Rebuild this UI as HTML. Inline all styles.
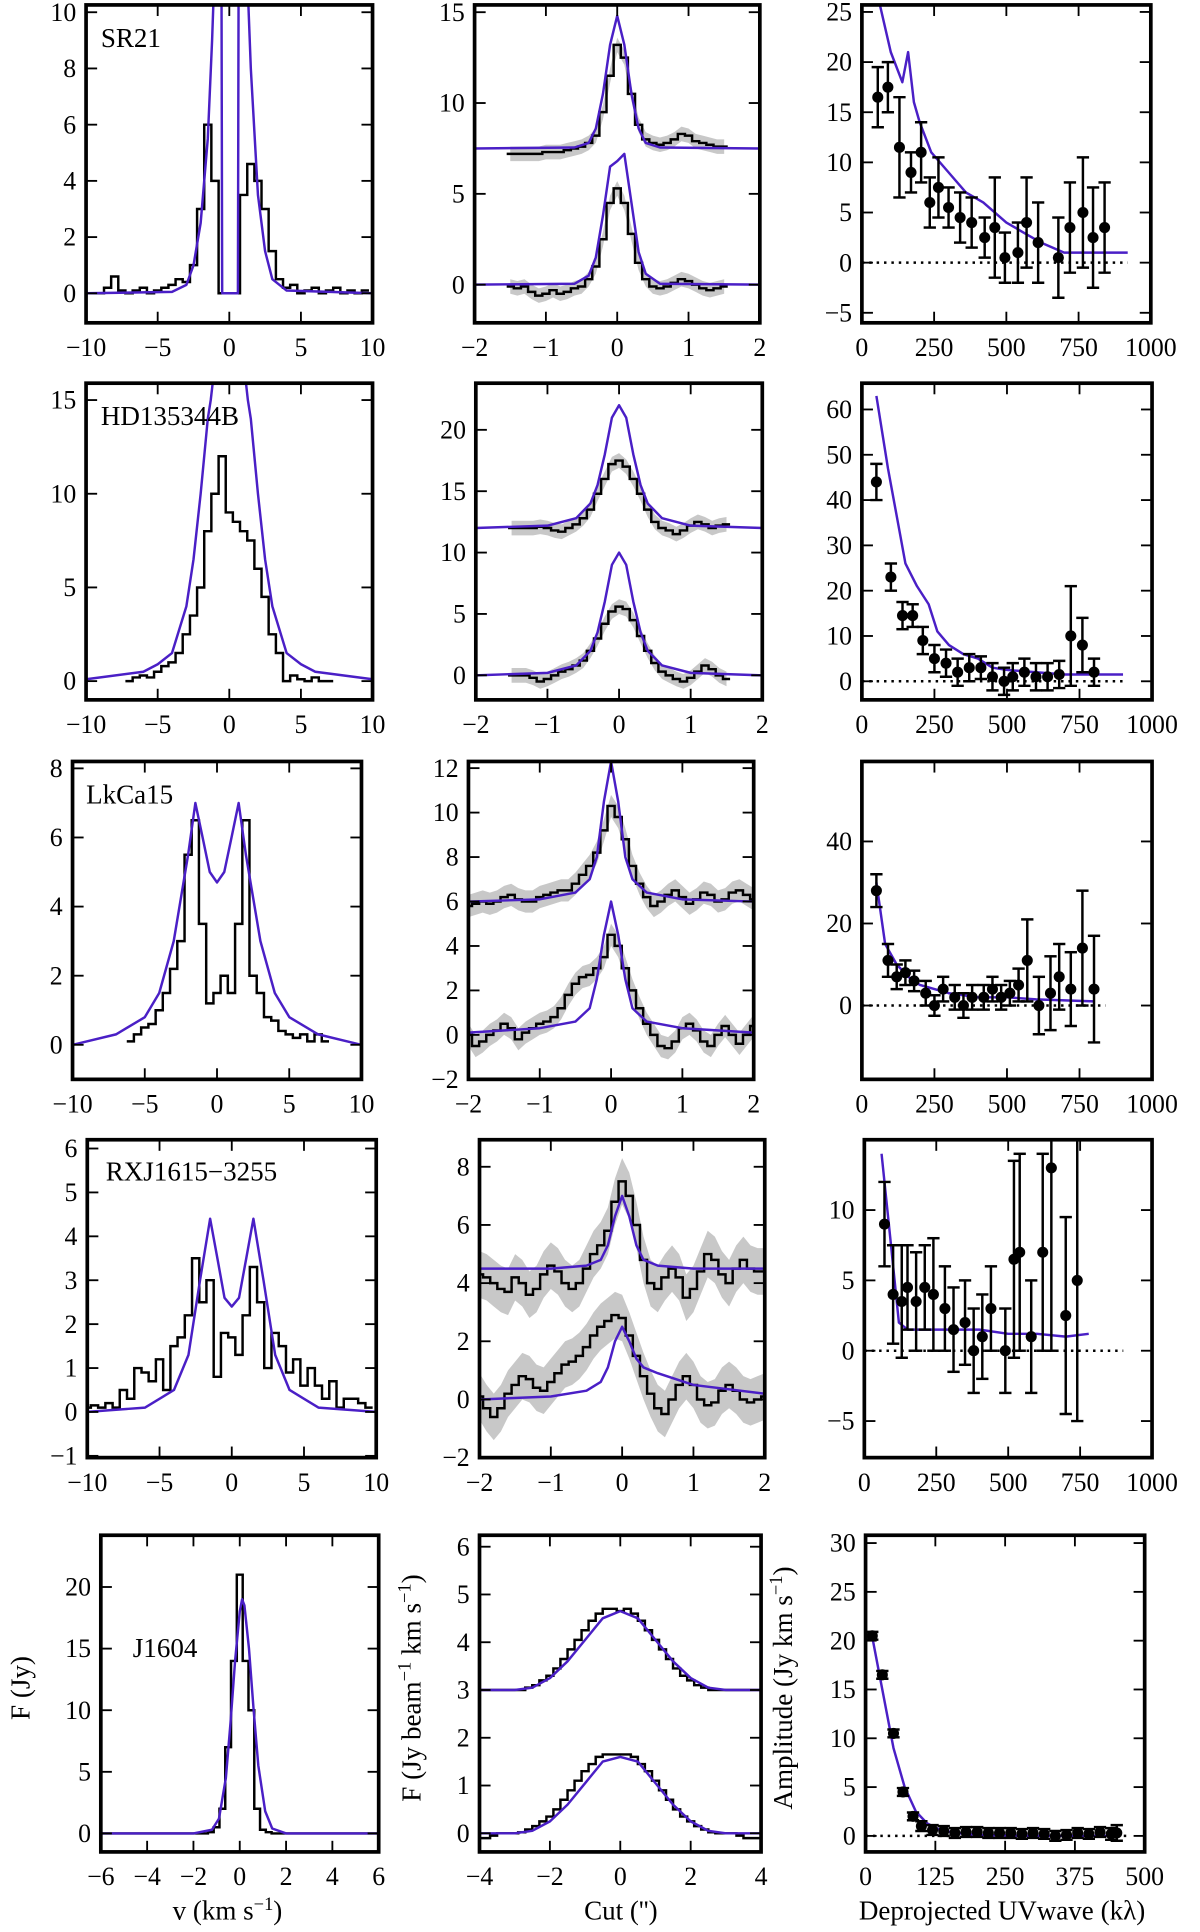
<!DOCTYPE html>
<html><head><meta charset="utf-8"><style>
html,body{margin:0;padding:0;background:#fff}
svg{display:block}
text{font-family:"Liberation Serif",serif;fill:#000}
</style></head><body>
<svg id="fig" xmlns="http://www.w3.org/2000/svg" width="1200" height="1932" viewBox="0 0 976 1568" preserveAspectRatio="none"></svg>
<script>
// ===== DATA =====
// Row 1: SR21
const sr21SpecX=[-9.5,-9,-8.5,-8,-7.5,-7,-6.5,-6,-5.5,-5,-4.5,-4,-3.5,-3,-2.5,-2,-1.5,-1,-0.5,0,0.5,1,1.5,2,2.5,3,3.5,4,4.5,5,5.5,6,6.5,7,7.5,8,8.5,9,9.5];
const sr21SpecY=[0,0,0.2,0.6,0.1,0,0.1,0.2,0,0.1,0.2,0.3,0.5,0.4,1.0,3.0,6.0,4.0,0,0,0,3.5,4.6,4.0,3.0,1.5,0.5,0.2,0.3,0,0.1,0.2,0,0.1,0.2,0,0.1,0,0.1];
const sr21ModX=[-10,-4,-3,-2.5,-2,-1.5,-1.2,-1,-0.7,-0.55,-0.5,0.6,0.65,0.8,1.2,1.5,2,2.5,3,4,10];
const sr21ModY=[0,0.05,0.3,1,2.5,5.5,9,12,12,12,0,0,12,12,12,8,3.5,1.5,0.5,0.1,0];
const sr21CutUp=[7.2,7.2,7.2,7.2,7.2,7.3,7.3,7.3,7.4,7.5,7.6,7.8,8.2,9.5,11.5,13.2,12.5,10.5,8.8,8.0,7.8,7.7,7.8,8.0,8.3,8.2,7.9,7.8,7.7,7.6,7.6];
const sr21CutLo=[-0.1,-0.2,-0.1,-0.4,-0.6,-0.5,-0.3,-0.5,-0.4,-0.2,-0.1,0.3,1.0,2.5,4.5,5.3,4.5,2.8,1.2,0.3,-0.1,-0.2,-0.1,0.1,0.3,0.2,0,-0.2,-0.3,-0.2,-0.1];
const sr21CutModX=[-2,-0.6,-0.4,-0.3,-0.2,-0.1,0,0.1,0.2,0.3,0.4,0.6,2];
const sr21CutModUp=[7.5,7.55,7.8,8.6,10.5,13.2,14.8,13.2,10.5,8.6,7.8,7.55,7.5];
const sr21CutModLo=[0,0.05,0.5,1.5,3.8,6.5,6.8,7.2,4.5,1.8,0.6,0.05,0];
const sr21UvX=[55,90,130,170,205,235,265,300,340,380,425,460,495,540,570,610,680,720,765,800,840];
const sr21UvY=[16.5,17.5,11.5,9,11,6,7.5,5.5,4.5,4,2.5,3.5,0.5,1,4,2,0.5,3.5,5,2.5,3.5];
const sr21UvE=[3,2.5,5,2,3,2.5,3,2,2.5,2.5,2,5,2.5,3,4.5,4,4,4.5,5.5,5,4.5];
const sr21UvModX=[60,100,140,160,180,200,240,300,360,420,500,560,620,700,800,920];
const sr21UvModY=[26,21,18,21,16,14,11,9,7,6,4,3,2,1,1,1];
// Row 2: HD135344B
const hdSpecX=[-7,-6.5,-6,-5.5,-5,-4.5,-4,-3.5,-3,-2.5,-2,-1.5,-1,-0.5,0,0.5,1,1.5,2,2.5,3,3.5,4,4.5,5,5.5,6,6.5,7];
const hdSpecY=[0,0.2,0.3,0.2,0.5,0.8,1,1.5,2.5,3.5,5,8,10,12,9,8.5,8,7.5,6,4.5,2.5,1.5,0,0.3,0.1,0,0.2,0,0];
const hdModX=[-10,-6,-5,-4,-3,-2.5,-2,-1.5,-1.3,-1,0,1,1.3,1.5,2,2.5,3,4,5,6,10];
const hdModY=[0.1,0.5,0.9,1.5,4,6.5,10,14,15,17,17,17,15,14,10,6.5,4,1.5,0.9,0.5,0.1];
const hdCutUp=[12,12,12,12,12.1,12,11.8,11.7,12,12.3,12.8,13.5,14.8,16,17.2,17.5,17,16,14.8,13.5,12.5,12,11.8,11.5,11.8,12.2,12.5,12.3,12,12.2,12.3];
const hdCutLo=[0,0,0,-0.2,-0.5,-0.3,0,0.3,0.5,0.8,1.2,2,3,4.2,5.2,5.6,5.4,4.5,3.2,2,1,0.3,0,-0.3,-0.5,-0.2,0.3,0.8,0.5,0,-0.3];
const hdCutModX=[-2,-1,-0.6,-0.4,-0.3,-0.2,-0.1,0,0.1,0.2,0.3,0.4,0.6,1,2];
const hdCutModUp=[12,12.2,12.8,14,15.5,18,21,22,21,18,15.5,14,12.8,12.2,12];
const hdCutModLo=[0,0.2,0.8,2,3.5,6,9,10,9,6,3.5,2,0.8,0.2,0];
const hdUvX=[50,100,140,175,210,250,290,330,370,410,450,490,520,560,600,640,680,720,760,800];
const hdUvY=[44,23,14.5,14.5,9,5,4,2,3,3,1,0,1,2,1,1,1.5,10,8,2];
const hdUvE=[4,3,3,2.5,3,3,3,3,3,2.5,3,3,3,3,3,3,3,11,6,3];
const hdUvModX=[50,90,130,150,190,230,260,300,350,400,450,500,600,700,900];
const hdUvModY=[63,47,33,26,21,17,11,8,6,5,3,2.5,2,1.5,1.5];
// Row 3: LkCa15
const lkSpecX=[-6,-5.5,-5,-4.5,-4,-3.5,-3,-2.5,-2,-1.5,-1,-0.5,0,0.5,1,1.5,2,2.5,3,3.5,4,4.5,5,5.5,6,6.5,7,7.5];
const lkSpecY=[0.1,0.3,0.5,0.6,1,1.5,2.2,3,5.5,6.5,3.5,1.2,1.5,2,1.5,3.5,6.5,2,1.5,0.8,0.7,0.4,0.3,0.2,0.3,0.1,0.3,0.1];
const lkModX=[-10,-7,-5,-4,-3,-2,-1.5,-1,-0.5,0,0.5,1,1.5,2,3,4,5,7,10];
const lkModY=[0,0.3,0.8,1.5,3,5.5,7,6,5,4.7,5,6,7,5.5,3,1.5,0.8,0.3,0];
const lkCutUp=[5.8,5.9,6.0,5.9,6.0,6.2,6.3,6.1,6.0,6.0,6.2,6.3,6.4,6.5,6.5,6.8,7.2,7.6,8.2,9.2,10.3,9.8,8.8,7.6,6.8,6.2,5.8,6.0,6.3,6.5,6.2,5.9,6.1,6.4,6.3,6.0,6.1,6.4,6.5,6.3,6.1];
const lkCutLo=[0,-0.5,-0.3,0,0.2,0.5,0.3,-0.2,0.1,0.3,0.5,0.6,0.8,1.2,1.8,2.3,2.6,2.7,3,3.5,4.5,4,3,2,1.2,0.5,0,-0.5,-0.6,-0.3,0.3,0.5,0.2,-0.3,-0.5,0,0.4,0,-0.4,0,0.4];
const lkCutModX=[-2,-1,-0.5,-0.3,-0.2,-0.1,0,0.1,0.2,0.3,0.5,1,2];
const lkCutModUp=[6,6.1,6.4,7,8,10.5,12.3,10.5,8,7,6.4,6.1,6];
const lkCutModLo=[0.1,0.3,0.6,1.2,2.5,4.5,6,4.5,2.5,1.2,0.6,0.3,0.1];
const lkUvX=[50,90,120,150,180,220,250,280,320,350,380,420,450,480,510,540,570,610,650,680,720,760,800];
const lkUvY=[28,11,7,8,6,3,0,4,2,0,2,2,4,2,3,5,11,0,3,7,4,14,4];
const lkUvE=[4,4,3,3,2.5,3,2.5,3,3,3,3,3,3,3,3,4,10,7,9,8,9,14,13];
const lkUvModX=[50,80,120,160,200,300,400,500,600,800];
const lkUvModY=[30,15,10,7,5,3,2,2,1.5,1];
// Row 4: RXJ1615-3255
const rxSpecX=[-10,-9.5,-9,-8.5,-8,-7.5,-7,-6.5,-6,-5.5,-5,-4.5,-4,-3.5,-3,-2.5,-2,-1.5,-1,-0.5,0,0.5,1,1.5,2,2.5,3,3.5,4,4.5,5,5.5,6,6.5,7,7.5,8,8.5,9,9.5];
const rxSpecY=[0.1,0.15,0.1,0.2,0.1,0.5,0.3,1,0.9,0.7,1.2,0.5,1.5,1.7,2.2,3.5,2.5,3,0.8,1.8,1.7,1.3,2.2,3.3,2.5,1,1.8,1.5,0.9,1.2,0.6,1,0.6,0.3,0.7,0.1,0.3,0.3,0.2,0.1];
const rxModX=[-10,-6,-4,-3,-2.2,-1.5,-1,-0.5,0,0.5,1,1.5,2.2,3,4,6,10];
const rxModY=[0,0.1,0.5,1.3,3,4.4,3.5,2.6,2.4,2.6,3.5,4.4,3,1.3,0.5,0.1,0];
const rxCutUp=[4.3,4.2,4.0,3.8,3.7,4.2,4.0,3.6,3.8,4.3,4.6,4.4,4.0,3.8,4.0,4.5,5.0,5.3,5.8,6.8,7.5,7.0,6.0,4.8,4.0,3.8,4.2,4.5,4.2,3.5,3.8,4.4,5.0,4.8,4.3,4.0,4.5,4.8,4.5,4.4,4.4];
const rxCutLo=[0.1,-0.3,-0.6,-0.3,0.2,0.5,0.8,0.7,0.4,0.3,0.6,0.9,1.2,1.3,1.5,1.8,2.2,2.5,2.7,2.9,2.8,2.2,1.5,0.8,0.2,-0.3,-0.5,0,0.5,0.8,0.5,0,-0.2,-0.1,0.3,0.5,0.3,0,-0.1,0,0.1];
const rxCutModX=[-2,-1,-0.5,-0.3,-0.2,-0.1,0,0.1,0.2,0.3,0.5,1,2];
const rxCutModUp=[4.5,4.5,4.6,4.8,5.3,6.3,7,6.3,5.3,4.8,4.6,4.5,4.5];
const rxCutModLo=[0,0.1,0.3,0.6,1.1,2,2.5,2,1.4,1.1,0.9,0.5,0.2];
const rxUvX=[70,100,130,150,180,210,240,280,310,350,380,410,440,490,520,540,580,620,650,700,740];
const rxUvY=[9,4,3.5,4.5,3.5,4.5,4,3,1.5,2,0,1,3,0,6.5,7,1,7,13,2.5,5];
const rxUvE=[3,3.5,4,3,3.5,3,4,3,3,3,3,3,3,3,7,7,4,7,13,7,10];
const rxUvModX=[60,90,120,150,200,300,400,500,600,700,780];
const rxUvModY=[14,8,2,1.5,1.5,1.5,1.5,1.2,1.2,1,1.2];
// Row 5: J1604
const jSpecX=[-6,-5.75,-5.5,-5,-4.5,-4,-3.5,-3,-2.5,-2,-1.5,-1.25,-1,-0.75,-0.5,-0.25,0,0.25,0.5,0.75,1,1.25,1.5,2,2.5,3,3.5,4,4.5,5,5.5,6];
const jSpecY=[0,0,0,0,0,0,0,0,0,0,0,0.1,0.5,2,7,14,21,14,10,2,0.3,0.1,0,0,0,0,0,0,0,0,0,0];
const jModX=[-6,-2,-1.2,-0.9,-0.6,-0.4,-0.2,0,0.1,0.2,0.4,0.6,0.8,1.1,1.4,2,6];
const jModY=[0,0,0.3,1.2,4.5,9,14,18,19,18.5,15,10,5.5,1.8,0.4,0,0];
const jCutX=[-4,-3.8,-3.6,-3.4,-3.2,-3,-2.8,-2.6,-2.4,-2.2,-2,-1.8,-1.6,-1.4,-1.2,-1,-0.8,-0.6,-0.4,-0.2,0,0.2,0.4,0.6,0.8,1,1.2,1.4,1.6,1.8,2,2.2,2.4,2.6,2.8,3,3.2,3.4,3.6,3.8,4];
const jCutUp=[3,3,3,3,3,3,3,3.05,3.1,3.2,3.3,3.45,3.65,3.85,4.05,4.25,4.45,4.6,4.7,4.7,4.65,4.7,4.6,4.45,4.25,4.05,3.85,3.65,3.45,3.3,3.2,3.1,3.05,3,3,3,3,3,3,3,3];
const jCutLo=[-0.1,-0.1,-0.05,0,0,0,0.02,0.08,0.15,0.25,0.35,0.5,0.7,0.9,1.1,1.3,1.45,1.6,1.65,1.65,1.65,1.65,1.6,1.45,1.3,1.1,0.9,0.7,0.5,0.35,0.25,0.15,0.08,0.02,0,0,0,-0.05,-0.1,-0.1,-0.1];
const jCutModX=[-4,-3,-2.5,-2,-1.5,-1,-0.5,0,0.5,1,1.5,2,2.5,3,4];
const jCutModUp=[3,3,3.05,3.25,3.6,4.05,4.5,4.65,4.5,4.05,3.6,3.25,3.05,3,3];
const jCutModLo=[0,0,0.05,0.25,0.6,1.05,1.5,1.6,1.5,1.05,0.6,0.25,0.05,0,0];
const jUvX=[12,30,50,67,85,100,120,140,160,180,200,220,240,260,280,300,320,340,360,380,400,420,440,450];
const jUvY=[20.5,16.5,10.5,4.5,2,1,0.6,0.5,0.3,0.4,0.4,0.3,0.3,0.3,0.2,0.3,0.2,0,0.1,0.3,0.2,0.4,0.2,0.3];
const jUvE=[0.4,0.4,0.4,0.4,0.4,0.5,0.5,0.5,0.5,0.5,0.5,0.5,0.5,0.5,0.5,0.5,0.5,0.5,0.5,0.5,0.5,0.5,0.6,0.8];
const jUvModX=[10,30,50,70,90,110,130,160,200,300,450];
const jUvModY=[21,15,9,5,2.5,1.3,0.7,0.3,0.1,0,0];
// tick labels
const tkV10=[-10,-5,0,5,10], tkCut2=[-2,-1,0,1,2], tkUv1000=[0,250,500,750,1000];
const tkV6=[-6,-4,-2,0,2,4,6], tkCut4=[-4,-2,0,2,4], tkUv500=[0,125,250,375,500];
const cut15X=[]; for(let i=0;i<31;i++) cut15X.push(+(-1.5+0.1*i).toFixed(2));
const cut2X=[]; for(let i=0;i<41;i++) cut2X.push(+(-2+0.1*i).toFixed(2));

// ===== LAYOUT =====
const NS='http://www.w3.org/2000/svg', svg=document.getElementById('fig');
const BLUE='#4a1fc6';
function mk(tag,attrs,parent){const e=document.createElementNS(NS,tag);for(const k in attrs)e.setAttribute(k,attrs[k]);(parent||svg).appendChild(e);return e;}
let clipId=0;
function panel(name,px,xr,yr,xt,yt){
  const g=mk('g',{});
  
  
  const [x0,x1,y0,y1]=px;
  const sx=v=>x0+(v-xr[0])/(xr[1]-xr[0])*(x1-x0);
  const sy=v=>y1-(v-yr[0])/(yr[1]-yr[0])*(y1-y0);
  const id='c'+(clipId++);
  const cp=mk('clipPath',{id},g);mk('rect',{x:x0,y:y0,width:x1-x0,height:y1-y0},cp);
  const plot=mk('g',{'clip-path':'url(#'+id+')'},g);
  const tg=mk('g',{},g);
  
  
  xt.forEach(v=>{const X=sx(v);
    mk('line',{x1:X,x2:X,y1:y1,y2:y1-9,stroke:'#000','stroke-width':1.5},tg);
    mk('line',{x1:X,x2:X,y1:y0,y2:y0+9,stroke:'#000','stroke-width':1.5},tg);
    const t=mk('text',{x:X,y:y1+27,'text-anchor':'middle','font-size':21},tg);t.textContent=String(v).replace('-','\u2212');});
  yt.forEach(v=>{const Y=sy(v);
    mk('line',{x1:x0,x2:x0+9,y1:Y,y2:Y,stroke:'#000','stroke-width':1.5},tg);
    mk('line',{x1:x1,x2:x1-9,y1:Y,y2:Y,stroke:'#000','stroke-width':1.5},tg);
    const t=mk('text',{x:x0-8,y:Y+7,'text-anchor':'end','font-size':21},tg);t.textContent=String(v).replace('-','\u2212');});
  mk('rect',{x:x0,y:y0,width:x1-x0,height:y1-y0,fill:'none',stroke:'#000','stroke-width':3},g);
  return {g,plot,sx,sy,x0,x1,y0,y1};
}
function stepPath(P,xs,ys){let d='';
  for(let i=0;i<xs.length;i++){
    const l=i?(xs[i-1]+xs[i])/2:xs[i]-(xs[1]-xs[0])/2;
    const r=i<xs.length-1?(xs[i]+xs[i+1])/2:xs[i]+(xs[i]-xs[i-1])/2;
    d+=(i?'L':'M')+P.sx(l).toFixed(1)+','+P.sy(ys[i]).toFixed(1)+'L'+P.sx(r).toFixed(1)+','+P.sy(ys[i]).toFixed(1);}
  return d;}
function hist(P,xs,ys,name){const p=mk('path',{d:stepPath(P,xs,ys),fill:'none',stroke:'#000','stroke-width':2},P.plot);
  
  }
function line(P,xs,ys,name,col){const d=xs.map((x,i)=>(i?'L':'M')+P.sx(x).toFixed(1)+','+P.sy(ys[i]).toFixed(1)).join('');
  const p=mk('path',{d,fill:'none',stroke:col||BLUE,'stroke-width':2,'stroke-linejoin':'round'},P.plot);
  
  }
function band(P,xs,ys,e,name){let d='';xs.forEach((x,i)=>d+=(i?'L':'M')+P.sx(x).toFixed(1)+','+P.sy(ys[i]+e).toFixed(1));
  for(let i=xs.length-1;i>=0;i--)d+='L'+P.sx(xs[i]).toFixed(1)+','+P.sy(ys[i]-e).toFixed(1);
  const p=mk('path',{d:d+'Z',fill:'#c8c8c8',stroke:'none'},P.plot);
  
  }
function pts(P,xs,ys,es,name){const g=mk('g',{},P.plot);
  
  
  xs.forEach((x,i)=>{const X=P.sx(x),a=P.sy(ys[i]+es[i]),b=P.sy(ys[i]-es[i]);
    mk('line',{x1:X,x2:X,y1:a,y2:b,stroke:'#000','stroke-width':2},g);
    mk('line',{x1:X-5,x2:X+5,y1:a,y2:a,stroke:'#000','stroke-width':2},g);
    mk('line',{x1:X-5,x2:X+5,y1:b,y2:b,stroke:'#000','stroke-width':2},g);
    mk('circle',{cx:X,cy:P.sy(ys[i]),r:4.5,fill:'#000'},g);});}
function zero(P,xe){mk('line',{x1:P.sx(0),x2:P.sx(xe),y1:P.sy(0),y2:P.sy(0),stroke:'#000','stroke-width':2,'stroke-dasharray':'2,4'},P.plot);}
function label(P,txt,x,y,name){const t=mk('text',{x,y,'font-size':22},P.g);t.textContent=txt;
  
  }

// Row 1
let P=panel('sr21-spectrum',[70,303,4,262],[-10,10],[-1.05,10.26],tkV10,[0,2,4,6,8,10]);
hist(P,sr21SpecX,sr21SpecY,'sr21-spectrum-data');line(P,sr21ModX,sr21ModY,'sr21-spectrum-model');label(P,'SR21',82,38,'sr21-label');
P=panel('sr21-cut',[386,618,4,262],[-2,2],[-2.1,15.4],tkCut2,[0,5,10,15]);
band(P,cut15X,sr21CutUp,0.4,'sr21-cut-upper-band');band(P,cut15X,sr21CutLo,0.4,'sr21-cut-lower-band');
hist(P,cut15X,sr21CutUp,'sr21-cut-upper-data');hist(P,cut15X,sr21CutLo,'sr21-cut-lower-data');
line(P,sr21CutModX,sr21CutModUp,'sr21-cut-upper-model');line(P,sr21CutModX,sr21CutModLo,'sr21-cut-lower-model');
P=panel('sr21-uv',[701,936,4,262],[0,1000],[-6,25.7],tkUv1000,[-5,0,5,10,15,20,25]);
zero(P,920);line(P,sr21UvModX,sr21UvModY,'sr21-uv-model');pts(P,sr21UvX,sr21UvY,sr21UvE,'sr21-uv-points');
// Row 2
P=panel('hd135344b-spectrum',[70,303,311,568],[-10,10],[-1,15.9],tkV10,[0,5,10,15]);
hist(P,hdSpecX,hdSpecY,'hd-spectrum-data');line(P,hdModX,hdModY,'hd-spectrum-model');label(P,'HD135344B',82,345,'hd135344b-label');
P=panel('hd135344b-cut',[387,620,311,568],[-2,2],[-2,23.8],tkCut2,[0,5,10,15,20]);
band(P,cut15X,hdCutUp,0.6,'hd-cut-upper-band');band(P,cut15X,hdCutLo,0.6,'hd-cut-lower-band');
hist(P,cut15X,hdCutUp,'hd-cut-upper-data');hist(P,cut15X,hdCutLo,'hd-cut-lower-data');
line(P,hdCutModX,hdCutModUp,'hd-cut-upper-model');line(P,hdCutModX,hdCutModLo,'hd-cut-lower-model');
P=panel('hd135344b-uv',[701,937,311,568],[0,1000],[-4.1,65.8],tkUv1000,[0,10,20,30,40,50,60]);
zero(P,900);line(P,hdUvModX,hdUvModY,'hd-uv-model');pts(P,hdUvX,hdUvY,hdUvE,'hd-uv-points');
// Row 3
P=panel('lkca15-spectrum',[59,294,618,876],[-10,10],[-1,8.2],tkV10,[0,2,4,6,8]);
hist(P,lkSpecX,lkSpecY,'lkca15-spectrum-data');line(P,lkModX,lkModY,'lkca15-spectrum-model');label(P,'LkCa15',70,652,'lkca15-label');
P=panel('lkca15-cut',[381,613,618,876],[-2,2],[-2,12.3],tkCut2,[-2,0,2,4,6,8,10,12]);
band(P,cut2X,lkCutUp,0.5,'lkca15-cut-upper-band');band(P,cut2X,lkCutLo,0.5,'lkca15-cut-lower-band');
hist(P,cut2X,lkCutUp,'lkca15-cut-upper-data');hist(P,cut2X,lkCutLo,'lkca15-cut-lower-data');
line(P,lkCutModX,lkCutModUp,'lkca15-cut-upper-model');line(P,lkCutModX,lkCutModLo,'lkca15-cut-lower-model');
P=panel('lkca15-uv',[701,937,618,876],[0,1000],[-18,59.5],tkUv1000,[0,20,40]);
zero(P,840);line(P,lkUvModX,lkUvModY,'lkca15-uv-model');pts(P,lkUvX,lkUvY,lkUvE,'lkca15-uv-points');
// Row 4
P=panel('rxj1615-spectrum',[71,306,925,1183],[-10,10],[-1.04,6.2],tkV10,[-1,0,1,2,3,4,5,6]);
hist(P,rxSpecX,rxSpecY,'rxj-spectrum-data');line(P,rxModX,rxModY,'rxj-spectrum-model');label(P,'RXJ1615\u22123255',86,958,'rxj1615-label');
P=panel('rxj1615-cut',[390,622,925,1183],[-2,2],[-2,8.93],tkCut2,[-2,0,2,4,6,8]);
band(P,cut2X,rxCutUp,0.8,'rxj-cut-upper-band');band(P,cut2X,rxCutLo,0.8,'rxj-cut-lower-band');
hist(P,cut2X,rxCutUp,'rxj-cut-upper-data');hist(P,cut2X,rxCutLo,'rxj-cut-lower-data');
line(P,rxCutModX,rxCutModUp,'rxj-cut-upper-model');line(P,rxCutModX,rxCutModLo,'rxj-cut-lower-model');
P=panel('rxj1615-uv',[703,937,925,1183],[0,1000],[-7.6,15],tkUv1000,[-5,0,5,10]);
zero(P,900);line(P,rxUvModX,rxUvModY,'rxj-uv-model');pts(P,rxUvX,rxUvY,rxUvE,'rxj-uv-points');
// Row 5
P=panel('j1604-spectrum',[82,308,1246,1503],[-6,6],[-1.5,24.2],tkV6,[0,5,10,15,20]);
hist(P,jSpecX,jSpecY,'j1604-spectrum-data');line(P,jModX,jModY,'j1604-spectrum-model');label(P,'J1604',108,1345,'j1604-label');
P=panel('j1604-cut',[390,619,1246,1503],[-4,4],[-0.39,6.24],tkCut4,[0,1,2,3,4,5,6]);
hist(P,jCutX,jCutUp,'j1604-cut-upper-data');hist(P,jCutX,jCutLo,'j1604-cut-lower-data');
line(P,jCutModX,jCutModUp,'j1604-cut-upper-model');line(P,jCutModX,jCutModLo,'j1604-cut-lower-model');
P=panel('j1604-uv',[704,931,1246,1503],[0,500],[-1.64,30.8],tkUv500,[0,5,10,15,20,25,30]);
zero(P,470);line(P,jUvModX,jUvModY,'j1604-uv-model');pts(P,jUvX,jUvY,jUvE,'j1604-uv-points');
</script>
<svg style="position:absolute;left:0;top:0" width="1200" height="1932" viewBox="0 0 976 1568" preserveAspectRatio="none" xmlns="http://www.w3.org/2000/svg">
<text x="185" y="1558" text-anchor="middle" font-size="22">v (km s<tspan dy="-8" font-size="15">−1</tspan><tspan dy="8">)</tspan></text>
<text x="505" y="1558" text-anchor="middle" font-size="22">Cut ('')</text>
<text x="815" y="1558" text-anchor="middle" font-size="22">Deprojected UVwave (kλ)</text>
<text transform="translate(24,1370) rotate(-90)" text-anchor="middle" font-size="22">F (Jy)</text>
<text transform="translate(342,1370) rotate(-90)" text-anchor="middle" font-size="22">F (Jy beam<tspan dy="-8" font-size="15">−1</tspan><tspan dy="8"> km s</tspan><tspan dy="-8" font-size="15">−1</tspan><tspan dy="8">)</tspan></text>
<text transform="translate(644,1370) rotate(-90)" text-anchor="middle" font-size="22">Amplitude (Jy km s<tspan dy="-8" font-size="15">−1</tspan><tspan dy="8">)</tspan></text>
</svg>
</body></html>
